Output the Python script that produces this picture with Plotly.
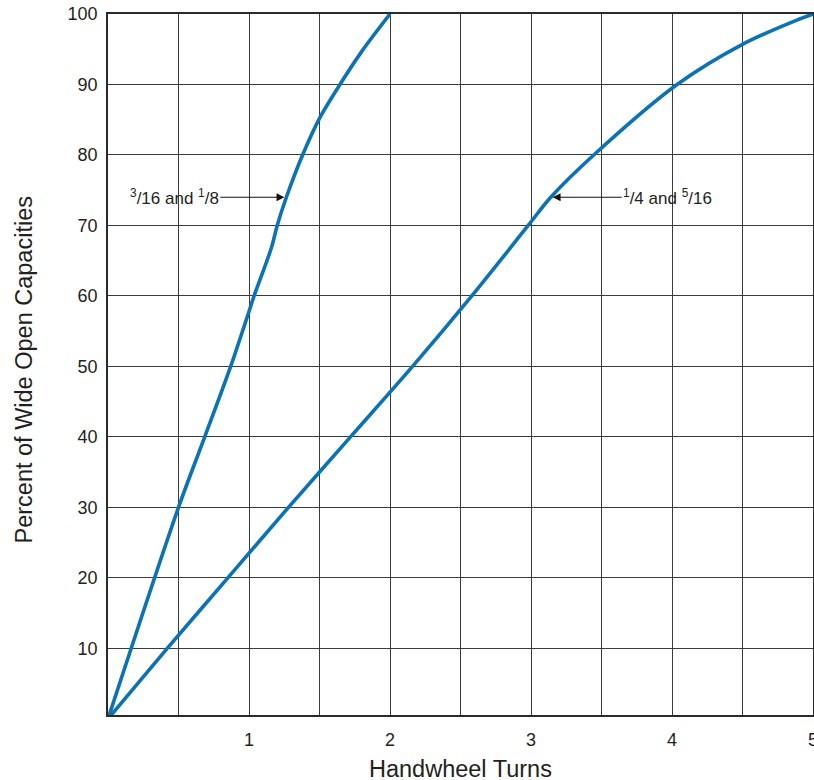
import plotly.graph_objects as go

# Curve for 3/16 and 1/8 sizes
turns_small = [0, 0.5, 0.686, 0.87, 1.0, 1.036, 1.16, 1.2, 1.265, 1.38, 1.5, 1.645, 1.8, 2.0]
pct_small = [0, 30, 40, 50, 57.8, 60, 66.9, 70, 74, 80, 85.2, 90, 94.7, 100]

# Curve for 1/4 and 5/16 sizes
turns_large = [0, 0.42, 0.85, 1.28, 1.72, 2.16, 2.58, 2.98, 3.14, 3.445, 4.036, 4.5, 4.9, 5.0]
pct_large = [0, 10, 20, 30, 40, 50, 60, 70, 74, 80, 90, 95.7, 99.25, 100]

x_tick_vals = [0.5, 1, 1.5, 2, 2.5, 3, 3.5, 4, 4.5, 5]
x_tick_text = ["", "1", "", "2", "", "3", "", "4", "", "5"]
y_tick_vals = [10, 20, 30, 40, 50, 60, 70, 80, 90, 100]
y_tick_text = ["10", "20", "30", "40", "50", "60", "70", "80", "90", "100"]

x_title = "Handwheel Turns"
y_title = "Percent of Wide Open Capacities"
label_small = "<sup>3</sup>/16 and <sup>1</sup>/8"
label_large = "<sup>1</sup>/4 and <sup>5</sup>/16"

BLUE = "#0a72b5"
GRID = "#3a3a3a"
TEXT = "#231f20"
FONT = "Liberation Sans, Arial, sans-serif"

fig = go.Figure()
fig.add_trace(go.Scatter(x=turns_small, y=pct_small, mode="lines",
                         line=dict(color=BLUE, width=3.6, shape="spline", smoothing=0.9),
                         showlegend=False, hoverinfo="skip"))
fig.add_trace(go.Scatter(x=turns_large, y=pct_large, mode="lines",
                         line=dict(color=BLUE, width=3.6, shape="spline", smoothing=0.9),
                         showlegend=False, hoverinfo="skip"))

fig.add_annotation(x=turns_small[8], y=pct_small[8], xref="x", yref="y",
                   text=label_small, showarrow=True, arrowhead=2, arrowsize=1.3,
                   arrowwidth=1.2, arrowcolor="#111", ax=-112, ay=0, standoff=2,
                   font=dict(size=17, color=TEXT, family=FONT))
fig.add_annotation(x=turns_large[8], y=pct_large[8], xref="x", yref="y",
                   text=label_large, showarrow=True, arrowhead=2, arrowsize=1.3,
                   arrowwidth=1.2, arrowcolor="#111", ax=117, ay=0, standoff=2,
                   font=dict(size=17, color=TEXT, family=FONT))

# axis titles as annotations for exact placement
fig.add_annotation(x=0.5, y=0, xref="paper", yref="paper", text=x_title, showarrow=False,
                   xanchor="center", yanchor="middle", yshift=-54,
                   font=dict(size=23.5, color=TEXT, family=FONT))
fig.add_annotation(x=0, y=0.5, xref="paper", yref="paper", text=y_title, showarrow=False,
                   textangle=-90, xanchor="center", yanchor="middle", xshift=-85, yshift=-6,
                   font=dict(size=23.5, color=TEXT, family=FONT))

fig.update_layout(
    width=814, height=780,
    margin=dict(l=108, r=1, t=14, b=65, autoexpand=False),
    paper_bgcolor="white", plot_bgcolor="white",
    font=dict(family=FONT, color=TEXT),
    xaxis=dict(range=[0, 5], tickmode="array", tickvals=x_tick_vals, ticktext=x_tick_text,
               showgrid=True, gridcolor=GRID, gridwidth=1, zeroline=False, automargin=False,
               showline=True, mirror=True, linecolor="#2a2a2a", linewidth=1.6,
               ticks="", ticklabelstandoff=8, ticklabeloverflow="allow",
               tickfont=dict(size=18, color=TEXT)),
    yaxis=dict(range=[0.55, 100], tickmode="array", tickvals=y_tick_vals, ticktext=y_tick_text,
               showgrid=True, gridcolor=GRID, gridwidth=1, zeroline=False, automargin=False,
               showline=True, mirror=True, linecolor="#2a2a2a", linewidth=1.6,
               ticks="", ticklabelstandoff=5, ticklabeloverflow="allow",
               tickfont=dict(size=18, color=TEXT)),
)

fig.write_html("out.html", config={"displayModeBar": False},
               post_script="document.body.style.margin='0';document.body.style.overflow='hidden';")
